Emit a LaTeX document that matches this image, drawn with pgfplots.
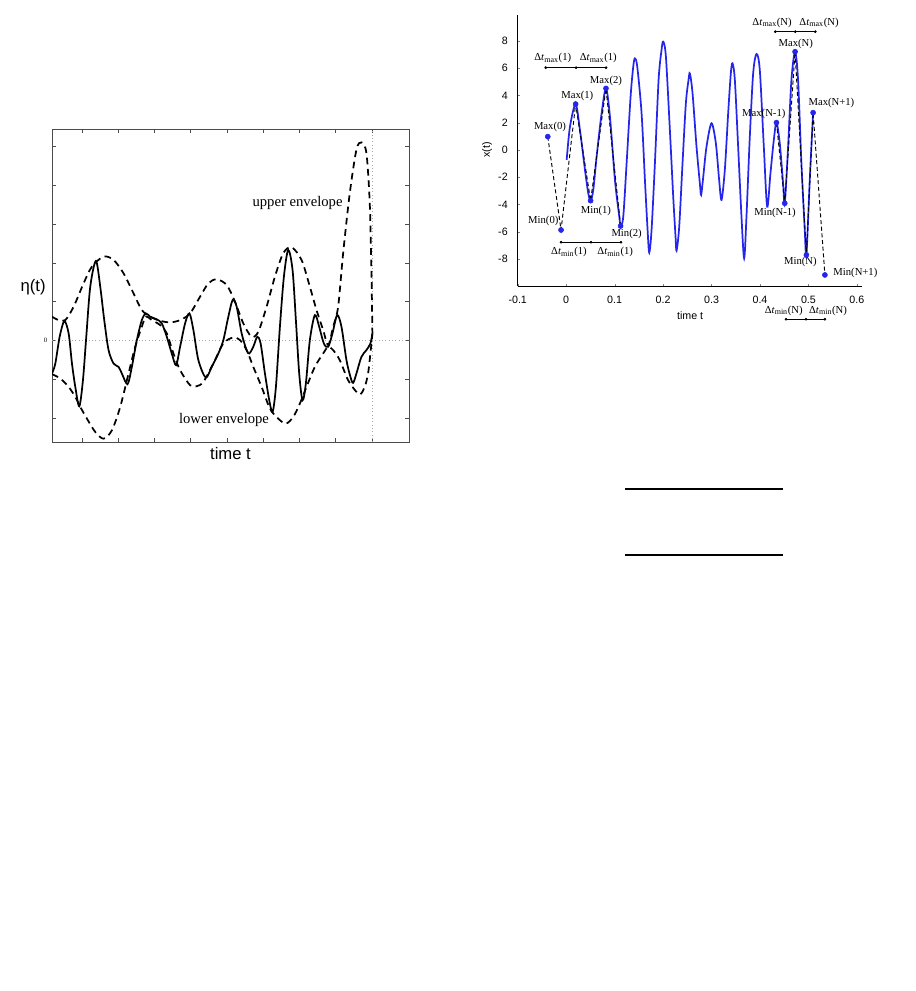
\documentclass[border=0pt]{standalone}
\usepackage{fontspec}
\setmainfont{Liberation Serif}
\setsansfont{Liberation Sans}
\usepackage{pgfplots}
\pgfplotsset{compat=1.18}
\definecolor{sigblue}{rgb}{0.15,0.15,0.92}
\begin{document}
\begin{tikzpicture}
\path[use as bounding box] (0,0) rectangle (686.25pt,-743.25pt);

% ---- left chart: signal with envelopes ----
\begin{axis}[
  at={(39pt,-331.5pt)}, anchor=south west,
  scale only axis, width=267.75pt, height=234.75pt,
  xmin=0, xmax=107.3, ymin=-30.4, ymax=63.3,
  axis line style={black!70, line width=0.6pt},
  xtick={9,19.9,30.8,41.7,52.6,63.5,74.4,85.3,96.3},
  ytick={-23.2,-11.6,0,11.6,23.2,34.8,46.4,58},
  xticklabels={}, yticklabels={,,0,,,,,},
  tick style={black!70, line width=0.5pt},
  major tick length=3pt,
  tick label style={font=\fontsize{5}{6}\selectfont},
  xlabel={time t}, ylabel={η(t)},
  xlabel style={font=\sffamily\fontsize{12.5}{14}\selectfont, at={(axis description cs:0.5,-0.037)}, anchor=center},
  ylabel style={font=\sffamily\fontsize{12.5}{14}\selectfont, rotate=-90, at={(axis description cs:-0.053,0.495)}, anchor=center},
]
\draw[black!35, dotted, line width=0.5pt] (axis cs:0,0) -- (axis cs:107.3,0);
\draw[black!35, dotted, line width=0.5pt] (axis cs:96.3,-30.4) -- (axis cs:96.3,63.3);
% signal
\addplot[black, line width=1.3pt, smooth] coordinates {
(0,-9.9)(1,-6.9)(2.3,1.1)(3.7,5.8)(5,2.1)(6,-6.9)(7,-13.9)(8.2,-19.7)(9.3,-11.9)
(10.3,1.1)(11.5,16.1)(13.2,23.8)(14.5,16.1)(15.7,6.1)(17,-2.9)(18.5,-6.9)(20,-7.9)
(21,-9.9)(22.7,-13.1)(24,-7.9)(25.5,0.1)(27,6.1)(28.2,8.1)(29.5,7.1)(31.5,6.3)
(33,5.1)(34.5,1.1)(36,-3.9)(37.3,-7.4)(38.5,-1.9)(40,5.1)(41.3,8.1)(42.5,3.1)
(44,-5.9)(46.2,-11.1)(48,-7.9)(50,-3.9)(51.5,0.1)(53,7.1)(54.3,12.1)(55.5,10.1)
(57,2.1)(58.5,-2.9)(59.3,-3.9)(60.5,-1.9)(61.7,1.1)(62.7,-0.9)(64,-9.9)(65.3,-17.9)
(66.3,-21.4)(67.3,-13.9)(68.5,4.1)(69.7,19.1)(71,27.1)(72.3,21.1)(73.3,6.1)
(74.3,-9.9)(75.3,-17.9)(76.3,-12.9)(77.5,0.1)(79,7.6)(80.3,4.1)(81.7,-0.9)(83,-1.9)
(84.3,2.1)(85.7,7.6)(87,4.1)(88.5,-5.9)(89.7,-10.9)(90.5,-12.7)(91.5,-9.9)
(93,-4.9)(94.5,-2.9)(95.7,-0.9)(96.3,2.1)
};
% upper envelope
\addplot[black, line width=1.3pt, dash pattern=on 5pt off 3.5pt, smooth] coordinates {
(0,7.1)(2,6.1)(4,6.1)(6.5,10.1)(9.5,17.1)(12,22.1)(15.5,25.1)(18.5,24.1)(21.5,20.1)
(24.5,14.1)(27,9.1)(29.5,7.1)(32.5,5.9)(35.5,5.4)(38.5,6.1)(41.5,8.1)(44.5,13.1)
(47,17.1)(49.5,18.3)(52.5,16.6)(55,11.6)(57.5,5.1)(60,1.1)(62,2.6)(64.5,10.1)
(67,19.1)(69.5,26.1)(72,27.9)(75,24.1)(77.5,16.1)(79.5,9.1)(81.5,3.1)(83,-1.4)
(84.5,4.1)(86,10.1)(87.5,26.1)(89.5,44.1)(91.5,57.1)(93,59.3)(94.5,56.1)(95.5,41.1)
(96,21.1)(96.3,2.1)
};
% lower envelope
\addplot[black, line width=1.3pt, dash pattern=on 5pt off 3.5pt, smooth] coordinates {
(0,-10.1)(2.5,-11.4)(5,-13.9)(7,-16.9)(8.5,-19.9)(10.5,-23.4)(13,-27.4)(15.5,-29.4)
(18,-26.9)(20.5,-19.9)(23,-9.9)(25,-1.9)(27,4.1)(28.2,7.1)(30,6.1)(32.5,4.6)
(34.5,2.1)(36.5,-3.9)(38.5,-8.9)(41.5,-13.4)(43.5,-13.7)(45.5,-12.4)(48.5,-6.9)
(51.5,-0.9)(54.5,0.9)(56.5,0.1)(58.5,-2.9)(60.5,-7.9)(63,-13.9)(65.5,-20.4)
(68,-23.4)(70.3,-24.9)(72.5,-22.9)(74.5,-18.9)(76.5,-13.9)(79,-7.9)(81.5,-3.9)
(83,-1.9)(84.5,-2.9)(86.5,-5.9)(89,-11.9)(91.5,-15.4)(92.7,-16.1)(94,-13.9)
(95,-9.9)(95.7,-3.9)(96.3,2.1)
};
\node[font=\fontsize{11}{13}\selectfont, fill=white, inner sep=1pt] at (axis cs:73.8,41.1) {upper envelope};
\node[font=\fontsize{11}{13}\selectfont, inner sep=1pt] at (axis cs:51.7,-23.7) {lower envelope};
\end{axis}

% ---- right chart: extrema of x(t) ----
\begin{axis}[
  at={(388.3pt,-214.7pt)}, anchor=south west,
  scale only axis, width=258pt, height=203.4pt,
  xmin=-0.1, xmax=0.61, ymin=-10, ymax=9.9,
  axis lines=left, axis line style={-, line width=0.8pt},
  xtick={-0.1,0,0.1,0.2,0.3,0.4,0.5,0.6},
  ytick={-8,-6,-4,-2,0,2,4,6,8},
  tick align=inside, major tick length=2pt,
  /pgf/number format/assume math mode=true,
  tick label style={font=\sffamily\fontsize{8}{9}\selectfont},
  xticklabel style={yshift=-4pt},
  yticklabel style={xshift=-4pt},
  xlabel={time t}, ylabel={x(t)},
  xlabel style={font=\sffamily\fontsize{8}{9}\selectfont, at={(axis description cs:0.501,-0.107)}, anchor=center},
  ylabel style={font=\sffamily\fontsize{8}{9}\selectfont, at={(axis description cs:-0.089,0.502)}, anchor=center},
  clip=false,
]
\addplot[sigblue, line width=1.3pt, smooth] coordinates {
(0.001,-0.73)(0.0078,1.71)(0.0195,3.37)(0.0284,1.47)(0.0388,-1.47)(0.0456,-3.18)
(0.0504,-3.72)(0.0559,-2.93)(0.0628,-0.49)(0.0731,2.69)(0.0821,4.52)(0.0903,2.45)
(0.1006,-2.20)(0.1096,-4.89)(0.1123,-5.58)(0.1178,-4.89)(0.1247,-0.98)(0.1329,3.91)
(0.1384,6.11)(0.1418,6.72)(0.1467,6.11)(0.1556,2.69)(0.1625,-2.20)(0.1680,-5.87)
(0.1714,-7.53)(0.1762,-5.87)(0.1831,-0.98)(0.1907,5.14)(0.1968,7.34)(0.2003,7.95)
(0.2058,6.85)(0.2140,1.47)(0.2209,-3.42)(0.2257,-6.36)(0.2278,-7.39)(0.2333,-5.62)
(0.2401,-0.98)(0.2470,3.42)(0.2525,5.14)(0.2553,5.62)(0.2608,4.16)(0.2690,0.24)
(0.2759,-2.45)(0.2785,-3.30)(0.2828,-2.0)(0.2896,0.24)(0.2999,1.96)(0.3089,0.49)
(0.3157,-2.20)(0.3206,-3.67)(0.3274,-1.47)(0.3343,2.69)(0.3398,5.62)(0.3432,6.36)
(0.3481,5.14)(0.3549,0.24)(0.3618,-4.89)(0.3673,-7.95)(0.3721,-4.89)(0.3790,0.98)
(0.3859,5.62)(0.3928,7.04)(0.3996,5.87)(0.4079,0.24)(0.4148,-4.16)(0.4216,-1.71)
(0.4285,0.73)(0.4340,2.01)(0.4408,0.49)(0.4477,-2.45)(0.4511,-3.91)(0.4580,0.24)
(0.4649,5.14)(0.4724,7.21)(0.4786,5.14)(0.4855,-0.98)(0.4924,-5.87)(0.4958,-7.70)
(0.5027,-2.20)(0.5096,2.74)
};
% lines joining the extrema (dashed)
\addplot[black, line width=0.7pt, dash pattern=on 3pt off 2pt] coordinates {
(-0.038,0.98)(-0.0106,-5.87)(0.0195,3.37)(0.0504,-3.72)(0.0821,4.52)(0.1123,-5.58)
};
\addplot[black, line width=0.7pt, dash pattern=on 3pt off 2pt] coordinates {
(0.4340,2.01)(0.4511,-3.91)(0.4724,7.21)(0.4958,-7.70)(0.5096,2.74)(0.534,-9.17)
};
% extrema
\addplot[only marks, mark=*, sigblue, mark size=1.9pt] coordinates {
(-0.038,0.98)(-0.0106,-5.87)(0.0195,3.37)(0.0504,-3.72)(0.0821,4.52)(0.1123,-5.58)
(0.4340,2.01)(0.4511,-3.91)(0.4724,7.21)(0.4958,-7.70)(0.5096,2.74)(0.534,-9.17)
};
% interval bars
\addplot[black, line width=0.4pt, mark=*, mark size=0.8pt] coordinates {(-0.0422,6.04)(0.0204,6.04)(0.0823,6.04)};
\addplot[black, line width=0.4pt, mark=*, mark size=0.8pt] coordinates {(-0.0106,-6.77)(0.0513,-6.77)(0.1132,-6.77)};
\addplot[black, line width=0.4pt, mark=*, mark size=0.8pt] coordinates {(0.4316,8.68)(0.4729,8.68)(0.5142,8.68)};
\addplot[black, line width=0.4pt, mark=*, mark size=0.8pt] coordinates {(0.4536,-12.42)(0.4949,-12.42)(0.534,-12.42)};
\begin{scope}[every node/.style={font=\fontsize{8}{9}\selectfont, inner sep=0.5pt}]
\node at (axis cs:-0.0334,1.69) {Max(0)};
\node at (axis cs:-0.0472,-5.19) {Min(0)};
\node at (axis cs:0.0229,3.96) {Max(1)};
\node at (axis cs:0.0614,-4.45) {Min(1)};
\node at (axis cs:0.0821,5.08) {Max(2)};
\node at (axis cs:0.1247,-6.14) {Min(2)};
\node at (axis cs:0.4078,2.64) {Max(N-1)};
\node at (axis cs:0.4311,-4.64) {Min(N-1)};
\node at (axis cs:0.4738,7.76) {Max(N)};
\node at (axis cs:0.4835,-8.24) {Min(N)};
\node at (axis cs:0.5474,3.45) {Max(N+1)};
\node at (axis cs:0.5969,-9.05) {Min(N+1)};
\node at (axis cs:-0.0278,6.73) {Δ\textit{t}\textsubscript{max}(1)};
\node at (axis cs:0.0662,6.73) {Δ\textit{t}\textsubscript{max}(1)};
\node at (axis cs:0.0058,-7.51) {Δ\textit{t}\textsubscript{min}(1)};
\node at (axis cs:0.1012,-7.51) {Δ\textit{t}\textsubscript{min}(1)};
\node at (axis cs:0.425,9.34) {Δ\textit{t}\textsubscript{max}(N)};
\node at (axis cs:0.5219,9.34) {Δ\textit{t}\textsubscript{max}(N)};
\node at (axis cs:0.449,-11.79) {Δ\textit{t}\textsubscript{min}(N)};
\node at (axis cs:0.5404,-11.79) {Δ\textit{t}\textsubscript{min}(N)};
\end{scope}
\end{axis}

% rules of the table below the right chart
\draw[line width=1.3pt] (468.75pt,-366.75pt) -- (587pt,-366.75pt);
\draw[line width=1.3pt] (468.75pt,-416.25pt) -- (587pt,-416.25pt);
\end{tikzpicture}
\end{document}
